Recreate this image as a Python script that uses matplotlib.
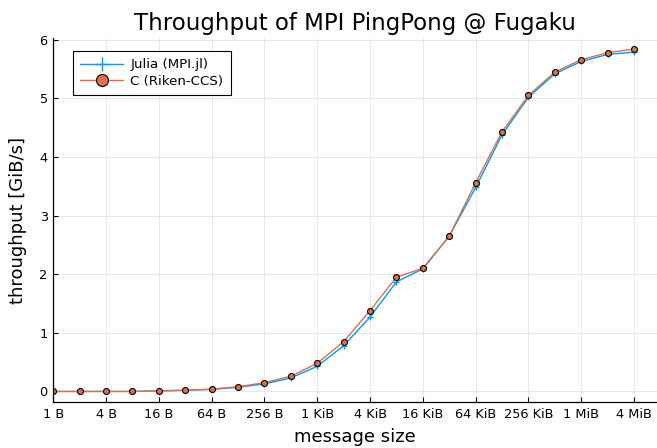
import numpy as np
import matplotlib.pyplot as plt

# message sizes 2^0 .. 2^22 bytes
sizes = 2.0 ** np.arange(0, 23)

# throughput in GiB/s
julia = [0.0, 0.0, 0.0, 0.0, 0.01, 0.02, 0.035, 0.07, 0.13, 0.23, 0.43, 0.78,
         1.27, 1.87, 2.09, 2.65, 3.48, 4.38, 5.02, 5.42, 5.63, 5.75, 5.79]
c_riken = [0.0, 0.0, 0.0, 0.0, 0.01, 0.02, 0.04, 0.08, 0.15, 0.26, 0.48, 0.85,
           1.38, 1.95, 2.10, 2.65, 3.56, 4.43, 5.05, 5.45, 5.66, 5.78, 5.84]

tick_pos = 2.0 ** np.arange(0, 23, 2)
tick_labels = ['1 B', '4 B', '16 B', '64 B', '256 B', '1 KiB', '4 KiB',
               '16 KiB', '64 KiB', '256 KiB', '1 MiB', '4 MiB']

fig = plt.figure(figsize=(6.57, 4.48), dpi=100)
ax = fig.add_axes([53.3/657, 46/448, 1 - 53.3/657, 364/448])

ax.plot(sizes, julia, color='#009AFA', lw=1, marker='+', ms=5, mew=1,
        label='Julia (MPI.jl)')
ax.plot(sizes, c_riken, color='#E36F47', lw=1, marker='o', ms=4.3,
        mec='black', mew=0.8, label='C (Riken-CCS)')

ax.set_xscale('log', base=2)
ax.set_xlim(1, 2.0 ** 22.87)
ax.set_ylim(-0.18, 6.03)
ax.set_xticks(tick_pos)
ax.set_xticklabels(tick_labels)
ax.minorticks_off()
ax.set_yticks(range(0, 7))

ax.grid(True, color='#e4e4e4', lw=0.6)
ax.set_axisbelow(True)
for s in ['top', 'right']:
    ax.spines[s].set_visible(False)
for s in ['left', 'bottom']:
    ax.spines[s].set_linewidth(0.9)
ax.tick_params(direction='in', length=3.6, width=0.8, labelsize=9.3, pad=4)

ax.set_xlabel('message size', fontsize=13, labelpad=5)
ax.set_ylabel('throughput [GiB/s]', fontsize=13, labelpad=9)
ax.set_title('Throughput of MPI PingPong @ Fugaku', fontsize=16.5, pad=6)

leg = ax.legend(loc='upper left', bbox_to_anchor=(0.0326, 0.964),
                borderaxespad=0, fontsize=9.6, markerscale=2,
                handlelength=3.2, handletextpad=0.55, labelspacing=0.25,
                borderpad=0.55, fancybox=False, framealpha=1,
                edgecolor='black')
leg.get_frame().set_linewidth(0.8)

fig.savefig('out.png', dpi=100)
